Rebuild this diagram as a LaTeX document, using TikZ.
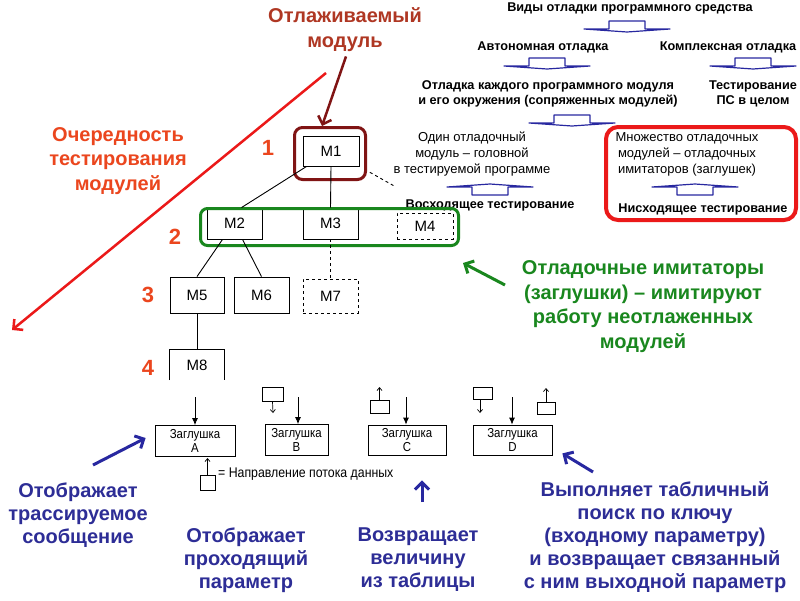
\documentclass[tikz,border=0pt]{standalone}
\usepackage{fontspec}
\setmainfont{Liberation Sans}
\newfontfamily\narrowsans[FakeStretch=0.88]{Liberation Sans}
\usetikzlibrary{arrows.meta,calc}
\definecolor{maroonc}{RGB}{128,20,20}
\definecolor{maroontext}{RGB}{175,55,35}
\definecolor{orred}{RGB}{235,70,30}
\definecolor{pured}{RGB}{235,25,25}
\definecolor{dgreen}{RGB}{25,135,30}
\definecolor{navyb}{RGB}{40,40,160}
\definecolor{bluet}{RGB}{45,45,150}
\tikzset{
  mod/.style={draw=black,line width=0.9pt,inner sep=0pt,font=\fontsize{15}{15}\selectfont},
  modd/.style={mod,dashed},
  stub/.style={draw=black,line width=0.8pt,align=center,inner sep=0pt,font=\narrowsans\fontsize{13}{14.5}\selectfont},
  flow/.style={draw=black,line width=0.7pt,inner sep=0pt},
  conn/.style={black,line width=0.9pt},
  flowarr/.style={black,line width=0.7pt,-{Straight Barb[length=3pt,width=5pt]}},
  inarr/.style={black,line width=0.8pt,-{Latex[length=7pt,width=6pt]}},
  hd/.style={font=\bfseries\fontsize{12.7}{15}\selectfont,align=center,inner sep=0pt},
  nm/.style={font=\fontsize{13}{16}\selectfont,align=center,inner sep=0pt},
  lbl/.style={font=\bfseries\fontsize{20}{24.5}\selectfont,align=center,inner sep=0pt},
  blbl/.style={font=\bfseries\fontsize{20}{23}\selectfont,align=center,inner sep=0pt,text=bluet},
  num/.style={font=\bfseries\fontsize{22}{22}\selectfont,text=orred,inner sep=0pt},
  bigarr/.style={line width=3pt,-{Straight Barb[length=7pt,width=14pt]}},
  blkdown/.pic={\draw[navyb,line width=1.2pt,line join=round] (-18,-6)--(18,-6)--(18,2)--(43,2)--(0,5)--(-43,2)--(-18,2)--cycle;},
  blkup/.pic={\draw[navyb,line width=1.2pt,line join=round] (-18,6)--(18,6)--(18,-2)--(43,-2)--(0,-5)--(-43,-2)--(-18,-2)--cycle;}
}
\begin{document}
\begin{tikzpicture}[x=1pt,y=-1pt]
\useasboundingbox (0,0) rectangle (800,600);
\fill[white] (0,0) rectangle (800,600);

% ---- classification (top right)
\node[hd] (vid) at (630,8) {Виды отладки программного средства};
\pic at (627,27) {blkdown};
\node[hd] (auto) at (543,47) {Автономная отладка};
\node[hd] (kompl) at (728,47) {Комплексная отладка};
\pic at (547,64) {blkdown};
\pic at (753,64) {blkdown};
\node[hd] (each) at (548,93.5) {Отладка каждого программного модуля\\и его окружения (сопряженных модулей)};
\node[hd] (whole) at (753,93.5) {Тестирование\\ПС в целом};
\node[nm] (one) at (472,154) {Один отладочный\\модуль -- головной\\в тестируемой программе};
\pic at (572,121) {blkdown};
\node[draw=pured,line width=4pt,rounded corners=12pt,minimum width=190pt,minimum height=93pt,inner sep=0pt] (redbox) at (701,173.5) {};
\node[nm] (many) at (687,154) {Множество отладочных\\модулей -- отладочных\\имитаторов (заглушек)};
\pic at (490,189) {blkup};
\pic at (695,189) {blkup};
\node[hd] (up) at (490,205) {Восходящее тестирование};
\node[hd] (down) at (703,209) {Нисходящее тестирование};

% ---- module tree
\node[mod,minimum width=56pt,minimum height=30pt] (M1) at (331,151) {M1};
\node[draw=maroonc,line width=3pt,rounded corners=8pt,minimum width=71pt,minimum height=52pt,inner sep=0pt] (M1sel) at (330,153.5) {};
\node[mod,minimum width=55pt,minimum height=31pt] (M2) at (234.5,223.5) {M2};
\node[mod,minimum width=55pt,minimum height=31pt] (M3) at (330.5,223.5) {M3};
\node[modd,minimum width=56pt,minimum height=26pt] (M4) at (425,226) {M4};
\node[mod,minimum width=54pt,minimum height=36pt] (M5) at (197,295) {M5};
\node[mod,minimum width=55pt,minimum height=36pt] (M6) at (261.5,295) {M6};
\node[modd,minimum width=55pt,minimum height=34pt] (M7) at (330.5,296) {M7};
\node[font=\fontsize{15}{15}\selectfont,inner sep=0pt,minimum width=54pt,minimum height=30pt] (M8) at (197,365) {M8};
\draw[conn] (M8.south west) -- (M8.north west) -- (M8.north east) -- (M8.south east);
\node[draw=dgreen,line width=3pt,rounded corners=7pt,minimum width=258pt,minimum height=37pt,inner sep=0pt] (grp) at (329.5,227) {};

\draw[conn] ([xshift=4pt]M1.south west) -- ([xshift=7pt]M2.north);
\draw[conn] (M1.south) -- (M3.north);
\draw[conn,dashed,shorten <=12pt,shorten >=55pt] (M1.south east) -- ([xshift=-12pt]M4.north east);
\draw[conn] ([xshift=-12pt]M2.south) -- (M5.north);
\draw[conn] ([xshift=8pt]M2.south) -- (M6.north);
\draw[conn,dashed] (M3.south) -- (M7.north);
\draw[conn] (M5.south) -- (M8.north);

\node[num] (n1) at (268,148) {1};
\node[num] (n2) at (175,237) {2};
\node[num] (n3) at (148,295) {3};
\node[num] (n4) at (148,368) {4};

% ---- labels
\node[lbl,text=maroontext] (dbg) at (345,29.5) {Отлаживаемый\\модуль};
\draw[maroonc,bigarr,line width=2.5pt] ($(dbg.south)+(1,5)$) -- ([xshift=-8pt]M1sel.north);

\coordinate (ordS) at (326,73);
\coordinate (ordE) at (12,330);
\draw[pured,bigarr,line width=2.5pt] (ordS) -- (ordE);
\node[lbl,text=orred] (ord) at (118,161) {Очередность\\тестирования\\модулей};

\node[lbl,text=dgreen] (stubl) at (643,306.5) {Отладочные имитаторы\\(заглушки) -- имитируют\\работу неотлаженных\\модулей};
\coordinate (gA) at (505,285);
\draw[dgreen,bigarr] (gA) -- ($(grp.south east)+(3,16)$);

% ---- stubs
\node[stub,minimum width=80pt,minimum height=31pt] (sA) at (195,441) {Заглушка\\A};
\node[stub,minimum width=63pt,minimum height=31pt] (sB) at (296.5,440) {Заглушка\\B};
\node[stub,minimum width=78pt,minimum height=30pt] (sC) at (407,440) {Заглушка\\C};
\node[stub,minimum width=79pt,minimum height=30pt] (sD) at (512.5,440) {Заглушка\\D};
\coordinate (iA) at (195,397);
\coordinate (iB) at (298,397);
\coordinate (iC) at (406,397);
\coordinate (iD) at (512,397);
\draw[inarr] (iA) -- (iA |- sA.north);
\draw[inarr] (iB) -- (iB |- sB.north);
\draw[inarr] (iC) -- (iC |- sC.north);
\draw[inarr] (iD) -- (iD |- sD.north);

\node[flow,minimum width=21pt,minimum height=14pt] (fB) at (272.5,394) {};
\coordinate (fBe) at (273,413);
\draw[flowarr] (fB.south) -- (fBe);
\node[flow,minimum width=19pt,minimum height=13pt] (fC) at (379.5,406.5) {};
\coordinate (fCe) at (379.5,387);
\draw[flowarr] (fC.north) -- (fCe);
\node[flow,minimum width=19pt,minimum height=12pt] (fD1) at (482.5,393) {};
\coordinate (fD1e) at (480,413);
\draw[flowarr] (fD1.south -| fD1e) -- (fD1e);
\node[flow,minimum width=18pt,minimum height=12pt] (fD2) at (546,408) {};
\coordinate (fD2e) at (546,388);
\draw[flowarr] (fD2.north) -- (fD2e);

\node[flow,minimum width=15pt,minimum height=15pt] (fL) at (207.5,482.5) {};
\coordinate (fLe) at (207.5,458);
\draw[flowarr] (fL.north) -- (fLe);
\node[font=\narrowsans\fontsize{14}{14}\selectfont,anchor=west,inner sep=0pt] (legend) at (218,474) {= Направление потока данных};

% ---- blue labels
\node[blbl] (bA) at (78,515) {Отображает\\трассируемое\\сообщение};
\node[blbl] (bB) at (246,560) {Отображает\\проходящий\\параметр};
\node[blbl] (bC) at (418,560) {Возвращает\\величину\\из таблицы};
\node[blbl] (bD) at (655,537) {Выполняет табличный\\поиск по ключу\\(входному параметру)\\и возвращает связанный\\с ним выходной параметр};
\coordinate (bAs) at (93,465);
\draw[navyb,bigarr] (bAs) -- ($(sA.west)+(-9,-3)$);
\coordinate (bCs) at (422,502);
\draw[navyb,bigarr] (bCs) -- ($(sC.south)+(15,25)$);
\coordinate (bDs) at (593,472);
\draw[navyb,bigarr] (bDs) -- ($(sD.south east)+(10,-2)$);
\end{tikzpicture}
\end{document}
